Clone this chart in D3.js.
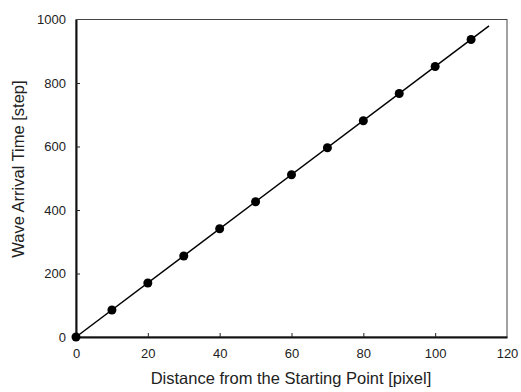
<!DOCTYPE html>
<html>
<head>
<meta charset="utf-8">
<script src="https://cdn.jsdelivr.net/npm/d3@7"></script>
<style>
  body { margin: 0; background: #fff; }
  text { font-family: "Liberation Sans", Arial, sans-serif; fill: #222; }
</style>
</head>
<body>
<div id="chart"></div>
<script>
const distance = [0, 10, 20, 30, 40, 50, 60, 70, 80, 90, 100, 110];
const arrival = [0, 85, 170, 255, 341, 426, 511, 596, 681, 767, 852, 937];
const fitX = [0, 115];
const fitY = [0, 980];
const xTicks = [0, 20, 40, 60, 80, 100, 120];
const yTicks = [0, 200, 400, 600, 800, 1000];

const width = 521, height = 392;
const margin = { top: 19.5, right: 14, bottom: 55, left: 76 };

const svg = d3.select('#chart')
  .append('svg')
  .attr('width', width)
  .attr('height', height);

const x = d3.scaleLinear().domain([0, 120]).range([margin.left, width - margin.right]);
const y = d3.scaleLinear().domain([0, 1000]).range([height - margin.bottom, margin.top]);

// frame
svg.append('rect')
  .attr('x', x(0)).attr('y', y(1000))
  .attr('width', x(120) - x(0)).attr('height', y(0) - y(1000))
  .attr('fill', 'none').attr('stroke', '#444').attr('stroke-width', 1);

// axes, ticks pointing inward
const xAxis = svg.append('g')
  .attr('transform', 'translate(0,' + y(0) + ')')
  .call(d3.axisBottom(x).tickValues(xTicks).tickFormat(d3.format('d'))
    .tickSizeInner(-4).tickSizeOuter(0).tickPadding(12));
const yAxis = svg.append('g')
  .attr('transform', 'translate(' + x(0) + ',0)')
  .call(d3.axisLeft(y).tickValues(yTicks).tickFormat(d3.format('d'))
    .tickSizeInner(-4).tickSizeOuter(0).tickPadding(10));

[xAxis, yAxis].forEach(g => {
  g.select('.domain').attr('stroke', '#111').attr('stroke-width', 2);
  g.selectAll('.tick line').attr('stroke', '#222');
  g.selectAll('.tick text').style('font-size', '13px').attr('fill', '#222');
});
xAxis.selectAll('.tick').filter(d => d === 0 || d === 120).select('line').remove();
yAxis.selectAll('.tick').filter(d => d === 0 || d === 1000).select('line').remove();

// fit line
const line = d3.line().x(d => x(d[0])).y(d => y(d[1]));
svg.append('path')
  .datum(d3.zip(fitX, fitY))
  .attr('d', line)
  .attr('fill', 'none')
  .attr('stroke', '#000')
  .attr('stroke-width', 1.5);

// points
svg.selectAll('circle.pt')
  .data(d3.zip(distance, arrival))
  .enter()
  .append('circle')
  .attr('class', 'pt')
  .attr('cx', d => x(d[0]))
  .attr('cy', d => y(d[1]))
  .attr('r', 4.5)
  .attr('fill', '#000');

// axis titles
svg.append('text')
  .attr('x', 291)
  .attr('y', 384)
  .attr('text-anchor', 'middle')
  .style('font-size', '16.5px')
  .text('Distance from the Starting Point [pixel]');

svg.append('text')
  .attr('transform', 'translate(24,169) rotate(-90)')
  .attr('text-anchor', 'middle')
  .style('font-size', '16.5px')
  .text('Wave Arrival Time [step]');
</script>
</body>
</html>
